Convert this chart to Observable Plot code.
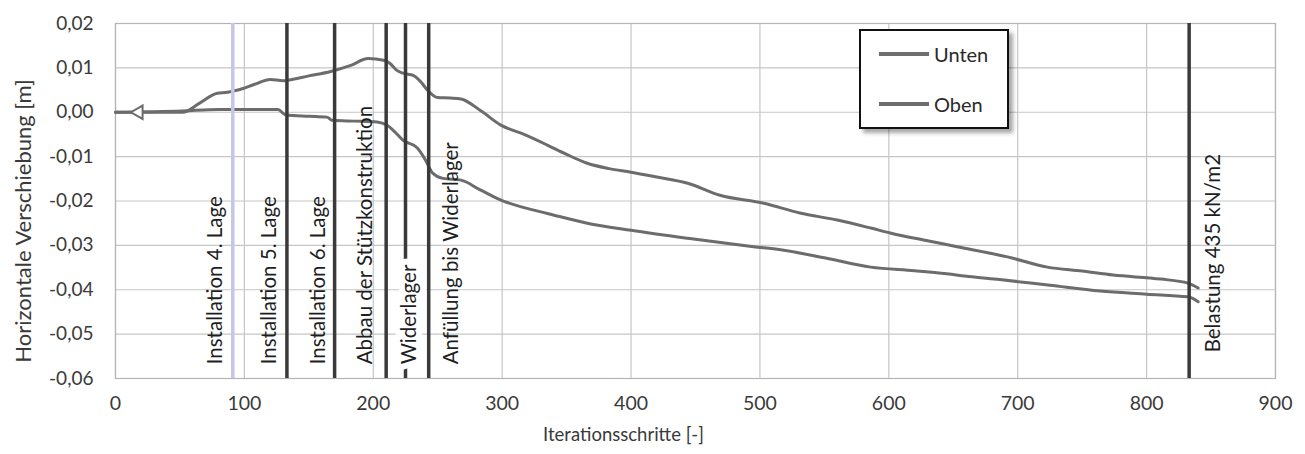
<!DOCTYPE html>
<html>
<head>
<meta charset="utf-8">
<script src="https://cdn.jsdelivr.net/npm/d3@7"></script>
<script src="https://cdn.jsdelivr.net/npm/@observablehq/plot@0.6"></script>
<style>
  body { margin: 0; background: #fff; font-family: Lato, "Open Sans", sans-serif; }
  #wrap { position: relative; width: 1305px; height: 454px; }
  #legend { position: absolute; left: 859px; top: 29px; width: 146px; height: 96px;
            border: 2px solid #111; background: #fff; box-shadow: 4px 4px 4px rgba(0,0,0,0.35); }
  .row { position: absolute; left: 18px; height: 22px; display: flex; align-items: center; }
  .swatch { width: 50px; height: 4px; background: #6e6e6e; margin-right: 5px; }
  .lab { font-size: 20px; color: #2a2a2a; }
</style>
</head>
<body>
<div id="wrap"></div>
<script>
// ---- data ----
const seriesNames = ["Unten", "Oben"];

const iterOben = [0, 52, 65, 79, 87, 95, 108, 120, 130, 133, 150, 167, 182, 196, 208, 213, 218, 223, 231, 237, 242, 250, 260, 268, 284, 299, 317, 335, 350, 366, 383, 400, 420, 444, 469, 503, 531, 560, 586, 601, 627, 653, 692, 723, 750, 774, 811, 832, 840];
const valOben  = [0, 0, 0.002, 0.0043, 0.0045, 0.005, 0.0063, 0.0074, 0.0071, 0.0072, 0.0082, 0.0092, 0.0105, 0.0121, 0.0117, 0.011, 0.0095, 0.0088, 0.0083, 0.0068, 0.005, 0.0033, 0.0032, 0.003, 0.0002, -0.0029, -0.005, -0.0074, -0.0095, -0.0115, -0.0127, -0.0135, -0.0146, -0.016, -0.0187, -0.0205, -0.0227, -0.0243, -0.0261, -0.0272, -0.0288, -0.0303, -0.0326, -0.0349, -0.0358, -0.0367, -0.0376, -0.0385, -0.0396];

const iterUnten = [0, 52, 80, 126, 132, 150, 164, 168, 185, 203, 211, 217, 223, 234, 240, 246, 254, 268, 283, 299, 317, 335, 366, 400, 444, 495, 516, 550, 586, 620, 645, 662, 686, 725, 764, 800, 832, 840];
const valUnten  = [0, 0.0003, 0.0006, 0.0006, -0.0006, -0.0009, -0.0011, -0.0018, -0.002, -0.0022, -0.003, -0.0045, -0.0063, -0.008, -0.0105, -0.0137, -0.0149, -0.0153, -0.0175, -0.0198, -0.0215, -0.0228, -0.025, -0.0266, -0.0284, -0.0303, -0.031, -0.0328, -0.0349, -0.0357, -0.0364, -0.037, -0.0377, -0.039, -0.0403, -0.041, -0.0416, -0.0427];

const eventIter   = [91, 133, 170, 210, 225, 243, 833];
const eventLabels = ["Installation 4. Lage", "Installation 5. Lage", "Installation 6. Lage",
                     "Abbau der Stützkonstruktion", "Widerlager", "Anfüllung bis Widerlager",
                     "Belastung 435 kN/m2"];

const markerIter = [18];
const markerVal  = [0];

const xTicks = [0, 100, 200, 300, 400, 500, 600, 700, 800, 900];
const yTicks = [-0.06, -0.05, -0.04, -0.03, -0.02, -0.01, 0, 0.01, 0.02];

const xTitle = "Iterationsschritte [-]";
const yTitle = "Horizontale Verschiebung [m]";

// ---- styles (not data) ----
const eventStyle = [
  {color: "#c6c6e6", dx: -17, dy: 0, halo: false},
  {color: "#3a3a3a", dx: -17, dy: 0, halo: false},
  {color: "#3a3a3a", dx: -16, dy: 0, halo: false},
  {color: "#3a3a3a", dx: -21, dy: 0, halo: false},
  {color: "#3a3a3a", dx: 4,   dy: 0, halo: true},
  {color: "#3a3a3a", dx: 23,  dy: 0, halo: false},
  {color: "#3a3a3a", dx: 24,  dy: -12, halo: false}
];
const labelBase = -0.0568;

const oben  = iterOben.map((x, i) => ({x, y: valOben[i]}));
const unten = iterUnten.map((x, i) => ({x, y: valUnten[i]}));
const events = eventIter.map((x, i) => ({x, label: eventLabels[i], ...eventStyle[i]}));
const marker = markerIter.map((x, i) => ({x, y: markerVal[i]}));

const fmt = d => d3.format(".2f")(d).replace(".", ",").replace("−", "-");

const lineColor = "#6c6c6c";

const eventTextMarks = events.map(e => Plot.text([e], {
  x: "x", y: () => labelBase, text: "label", rotate: -90, textAnchor: "start",
  dx: e.dx, dy: e.dy, fontSize: 20.5, fill: "#1e1e1e",
  stroke: e.halo ? "white" : null, strokeWidth: e.halo ? 12 : 0
}));

const chart = Plot.plot({
  width: 1305, height: 454,
  marginTop: 23, marginBottom: 76, marginLeft: 115, marginRight: 30,
  style: {fontFamily: "Lato, 'Open Sans', sans-serif", fontSize: "19px", color: "#3a3a3a", background: "white"},
  x: {domain: [0, 900]},
  y: {domain: [-0.06, 0.02]},
  marks: [
    Plot.gridX(xTicks, {stroke: "#c6c6c6", strokeOpacity: 1, strokeWidth: 1.2}),
    Plot.gridY(yTicks, {stroke: "#c6c6c6", strokeOpacity: 1, strokeWidth: 1.2}),
    Plot.frame({stroke: "#b4b4b4", strokeWidth: 1.2}),
    Plot.axisX(xTicks, {tickSize: 0, tickPadding: 18, label: null, fontSize: 19.5}),
    Plot.axisY(yTicks, {tickSize: 0, tickPadding: 22, label: null, tickFormat: fmt, fontSize: 19}),
    Plot.line(unten, {x: "x", y: "y", stroke: lineColor, strokeWidth: 3, curve: "monotone-x"}),
    Plot.line(oben, {x: "x", y: "y", stroke: lineColor, strokeWidth: 3, curve: "monotone-x"}),
    Plot.dot(marker, {x: "x", y: "y", symbol: "triangle", rotate: -90, r: 5, stroke: lineColor, fill: "white", strokeWidth: 2}),
    Plot.ruleX(events, {x: "x", stroke: d => d.color, strokeWidth: 3.5}),
    ...eventTextMarks,
    Plot.text([xTitle], {frameAnchor: "bottom", textAnchor: "middle", dx: -72, dy: 62, fontSize: 18.5, fill: "#3a3a3a"}),
    Plot.text([yTitle], {frameAnchor: "left", textAnchor: "middle", rotate: -90, dx: -92, dy: 20, fontSize: 22, fill: "#3a3a3a"})
  ]
});

const wrap = document.getElementById("wrap");
wrap.appendChild(chart);

const legend = document.createElement("div");
legend.id = "legend";
seriesNames.forEach((name, i) => {
  const row = document.createElement("div");
  row.className = "row";
  row.style.top = (12 + i * 50) + "px";
  const sw = document.createElement("div");
  sw.className = "swatch";
  const lab = document.createElement("span");
  lab.className = "lab";
  lab.textContent = name;
  row.appendChild(sw);
  row.appendChild(lab);
  legend.appendChild(row);
});
wrap.appendChild(legend);
</script>
</body>
</html>
